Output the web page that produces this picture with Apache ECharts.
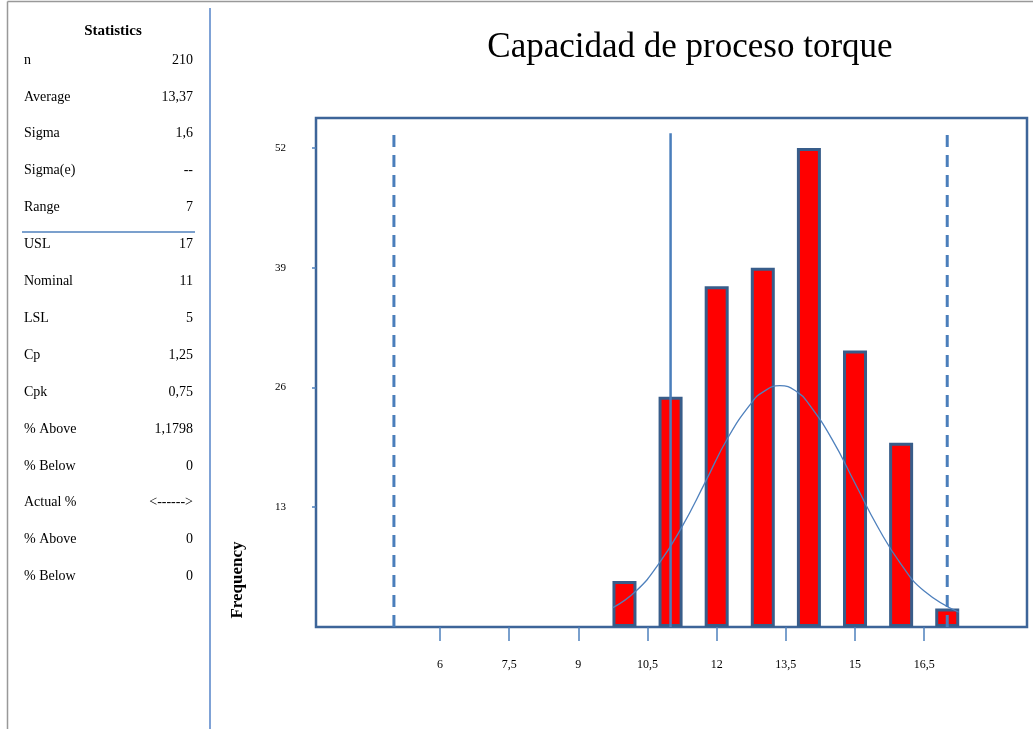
<!DOCTYPE html>
<html lang="es">
<head>
    <meta charset="UTF-8">
    <script src="https://cdn.jsdelivr.net/npm/echarts@6/dist/echarts.min.js"></script>
    <style>
        html, body { margin: 0; padding: 0; background: #fff; }
        #chart { width: 1033px; height: 729px; }
    </style>
</head>
<body>
<div id="chart"></div>
<script>
    // tabla de estadisticas (panel izquierdo)
    var statLabels = ['n', 'Average', 'Sigma', 'Sigma(e)', 'Range', 'USL', 'Nominal', 'LSL', 'Cp', 'Cpk',
        '% Above', '% Below', 'Actual %', '% Above', '% Below'];
    var statValues = ['210', '13,37', '1,6', '--', '7', '17', '11', '5', '1,25', '0,75',
        '1,1798', '0', '<------>', '0', '0'];

    // histograma
    var binCenters = [10, 11, 12, 13, 14, 15, 16, 17];
    var binCounts = [5, 25, 37, 39, 52, 30, 20, 2];

    // curva normal
    var curveX = [9.75, 10.25, 10.75, 11.25, 11.75, 12.25, 12.75, 13, 13.37, 13.75, 14, 14.5, 15, 15.5, 16, 16.5, 17.25];
    var curveY = [2.1, 3.9, 6.9, 10.9, 15.7, 20.6, 24.3, 25.5, 26.2, 25.5, 24.2, 20.4, 15.6, 10.8, 6.8, 3.9, 1.6];

    // limites
    var lsl = 5, nominal = 11, usl = 17;
    var limitTop = 53.6;

    var xTicks = [6, 7.5, 9, 10.5, 12, 13.5, 15, 16.5];
    var yTicks = [13, 26, 39, 52];

    var serif = '"Liberation Serif", "Times New Roman", serif';
    var frameColor = '#3d6599';
    var lineColor = '#4a7ebb';

    var chart = echarts.init(document.getElementById('chart'));

    var graphics = [];
    // marco exterior gris
    graphics.push({ type: 'line', shape: { x1: 7.5, y1: 1.5, x2: 1033, y2: 1.5 }, style: { stroke: '#999', lineWidth: 1.5 } });
    graphics.push({ type: 'line', shape: { x1: 7.5, y1: 1.5, x2: 7.5, y2: 729 }, style: { stroke: '#999', lineWidth: 1.5 } });
    // separador azul
    graphics.push({ type: 'line', shape: { x1: 210, y1: 8, x2: 210, y2: 729 }, style: { stroke: '#7fa2d6', lineWidth: 2 } });
    graphics.push({ type: 'line', shape: { x1: 22, y1: 232, x2: 195, y2: 232 }, style: { stroke: '#4f81bd', lineWidth: 1.5 } });

    graphics.push({
        type: 'text', x: 113, y: 31,
        style: { text: 'Statistics', font: 'bold 15px ' + serif, fill: '#000', textAlign: 'center', textVerticalAlign: 'middle' }
    });
    statLabels.forEach(function (lab, i) {
        var y = 60 + i * 36.9;
        graphics.push({
            type: 'text', x: 24, y: y,
            style: { text: lab, font: '14px ' + serif, fill: '#000', textAlign: 'left', textVerticalAlign: 'middle' }
        });
        graphics.push({
            type: 'text', x: 193, y: y,
            style: { text: statValues[i], font: '14px ' + serif, fill: '#000', textAlign: 'right', textVerticalAlign: 'middle' }
        });
    });

    graphics.push({
        type: 'text', x: 690, y: 48,
        style: { text: 'Capacidad de proceso torque', font: '35px ' + serif, fill: '#000', textAlign: 'center', textVerticalAlign: 'middle' }
    });
    graphics.push({
        type: 'text', x: 238, y: 580, rotation: Math.PI / 2,
        style: { text: 'Frequency', font: 'bold 17px ' + serif, fill: '#000', textAlign: 'center', textVerticalAlign: 'middle' }
    });

    function limitLine(x, dashed, w) {
        return {
            type: 'line',
            data: [[x, 0], [x, limitTop]],
            symbol: 'none',
            silent: true,
            z: 5,
            lineStyle: { color: lineColor, width: w, type: dashed ? [12, 8] : 'solid' }
        };
    }

    var option = {
        animation: false,
        grid: {
            left: 316, top: 118, width: 711, height: 509,
            show: true, borderColor: frameColor, borderWidth: 2.5, backgroundColor: '#fff'
        },
        xAxis: {
            type: 'value',
            min: 3.31, max: 18.73,
            splitLine: { show: false },
            axisLine: { show: false },
            axisTick: {
                show: true, length: 14, customValues: xTicks,
                lineStyle: { color: '#4f81bd', width: 1.5 }
            },
            axisLabel: {
                customValues: xTicks, margin: 32,
                fontFamily: 'Liberation Serif', fontSize: 12, color: '#000',
                formatter: function (v) { return String(v).replace('.', ','); }
            }
        },
        yAxis: {
            type: 'value',
            min: 0, max: 55.25,
            splitLine: { show: false },
            axisLine: { show: false },
            axisTick: {
                show: true, length: 4, customValues: yTicks,
                lineStyle: { color: '#4f81bd', width: 1.5 }
            },
            axisLabel: {
                customValues: yTicks, margin: 30,
                fontFamily: 'Liberation Serif', fontSize: 11, color: '#000'
            }
        },
        graphic: graphics,
        series: [
            {
                type: 'bar',
                data: binCenters.map(function (c, i) { return [c, binCounts[i]]; }),
                barWidth: 24,
                itemStyle: { color: '#ff0000', borderColor: '#385d8a', borderWidth: 3 },
                z: 2
            },
            {
                type: 'line',
                data: curveX.map(function (x, i) { return [x, curveY[i]]; }),
                smooth: 0.5,
                symbol: 'none',
                lineStyle: { color: '#4f81bd', width: 1.3 },
                z: 4
            },
            limitLine(lsl, true, 3),
            limitLine(usl, true, 3),
            limitLine(nominal, false, 2.5)
        ]
    };
    chart.setOption(option);
</script>
</body>
</html>
